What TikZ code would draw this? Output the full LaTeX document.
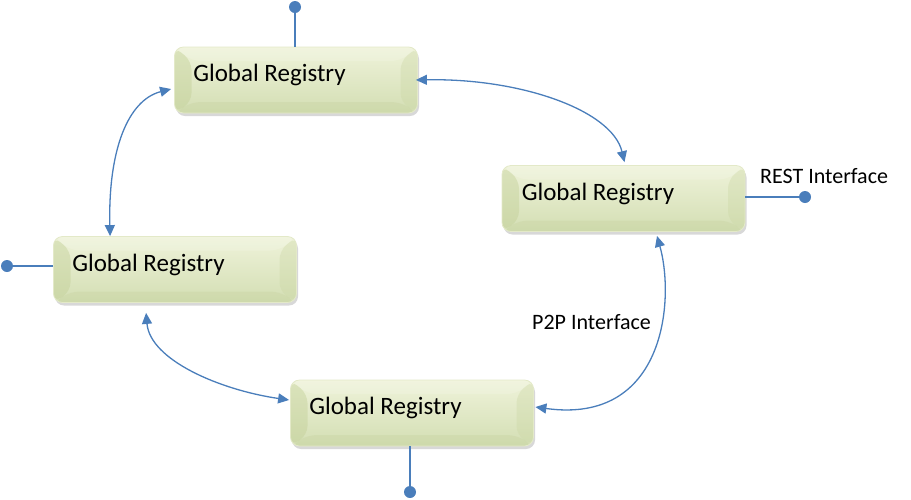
\documentclass[tikz,border=0pt]{standalone}
\usepackage{fontspec}
\setmainfont{Carlito}
\usetikzlibrary{arrows.meta,shadows,calc}
\definecolor{lineblue}{HTML}{4A7EBB}
\definecolor{faceTop}{HTML}{EFF3DA}
\definecolor{faceBot}{HTML}{D3DEB3}
\definecolor{edgecol}{HTML}{E3E9C8}
\definecolor{facetL}{HTML}{C3D098}
\definecolor{facetR}{HTML}{CAD6A3}
\definecolor{facetB}{HTML}{C2CF98}
\tikzset{
  reg/.style={rectangle, rounded corners=9pt, minimum width=243pt, minimum height=66pt,
    inner sep=0pt, draw=edgecol, line width=0.8pt, top color=faceTop, bottom color=faceBot,
    drop shadow={shadow xshift=1.5pt, shadow yshift=-3pt, opacity=0.28, fill=black!55},
    path picture={
      \fill[facetL, opacity=0.45] (path picture bounding box.north west)
        -- ($(path picture bounding box.north west)+(17,14)$)
        -- ($(path picture bounding box.south west)+(17,-11)$)
        -- (path picture bounding box.south west) -- cycle;
      \fill[facetR, opacity=0.35] (path picture bounding box.north east)
        -- ($(path picture bounding box.north east)+(-17,14)$)
        -- ($(path picture bounding box.south east)+(-17,-11)$)
        -- (path picture bounding box.south east) -- cycle;
      \fill[facetB, opacity=0.28] (path picture bounding box.south west)
        -- ($(path picture bounding box.south west)+(17,-11)$)
        -- ($(path picture bounding box.south east)+(-17,-11)$)
        -- (path picture bounding box.south east) -- cycle;
      \fill[white, opacity=0.15] (path picture bounding box.north west)
        -- ($(path picture bounding box.north west)+(17,14)$)
        -- ($(path picture bounding box.north east)+(-17,14)$)
        -- (path picture bounding box.north east) -- cycle;
    }},
  regtext/.style={anchor=base west, font=\fontsize{25}{30}\selectfont, inner sep=0pt},
  stub/.style={draw=lineblue, line width=2.2pt},
  dot/.style={circle, fill=lineblue, inner sep=0pt, minimum size=12pt},
  link/.style={draw=lineblue, line width=1.3pt,
    {Triangle[length=11pt,width=10pt]}-{Triangle[length=11pt,width=10pt]}},
  lbl/.style={anchor=base west, font=\fontsize{22}{26}\selectfont, inner sep=0pt},
}
\begin{document}
\begin{tikzpicture}[x=1pt,y=-1pt]
\useasboundingbox (0,0) rectangle (911,499);
% boxes
\node[reg] (b1) at (296,80) {};
\node[reg] (b2) at (623.5,198.5) {};
\node[reg] (b3) at (175,269.5) {};
\node[reg] (b4) at (412,413) {};
% texts
\node[regtext] (t1) at ($(b1.north west)+(19,35)$) {Global Registry};
\node[regtext] (t2) at ($(b2.north west)+(20,35)$) {Global Registry};
\node[regtext] (t3) at ($(b3.north west)+(19,35)$) {Global Registry};
\node[regtext] (t4) at ($(b4.north west)+(19,35)$) {Global Registry};
% stubs
\coordinate (c1) at (295,7);
\coordinate (c2) at (805,197);
\coordinate (c3) at (7,266);
\coordinate (c4) at (410,492);
\draw[stub] (b1.north -| c1) -- (c1);
\draw[stub] (b2.east |- c2) -- (c2);
\draw[stub] (b3.west |- c3) -- (c3);
\draw[stub] (b4.south -| c4) -- (c4);
\node[dot] (d1) at (c1) {};
\node[dot] (d2) at (c2) {};
\node[dot] (d3) at (c3) {};
\node[dot] (d4) at (c4) {};
% links
\draw[link] ($(b3.north west)+(57,0)$) .. controls (108,150) and (128,100) .. ($(b1.west)+(-3,9)$);
\draw[link] ($(b1.east)+(-2,0)$) .. controls (520,78) and (612,110) .. ($(b2.north)+(1,-3)$);
\draw[link] ($(b3.south west)+(93,10)$) .. controls (150,360) and (220,390) .. ($(b4.west)+(-1,-13)$);
\draw[link] ($(b2.south)+(33.5,4)$) .. controls (675,300) and (665,425) .. ($(b4.east)+(1.5,-6)$);
% labels
\node[lbl] (rest) at (760,183) {REST Interface};
\node[lbl] (p2p) at (532,329) {P2P Interface};
\end{tikzpicture}
\end{document}
